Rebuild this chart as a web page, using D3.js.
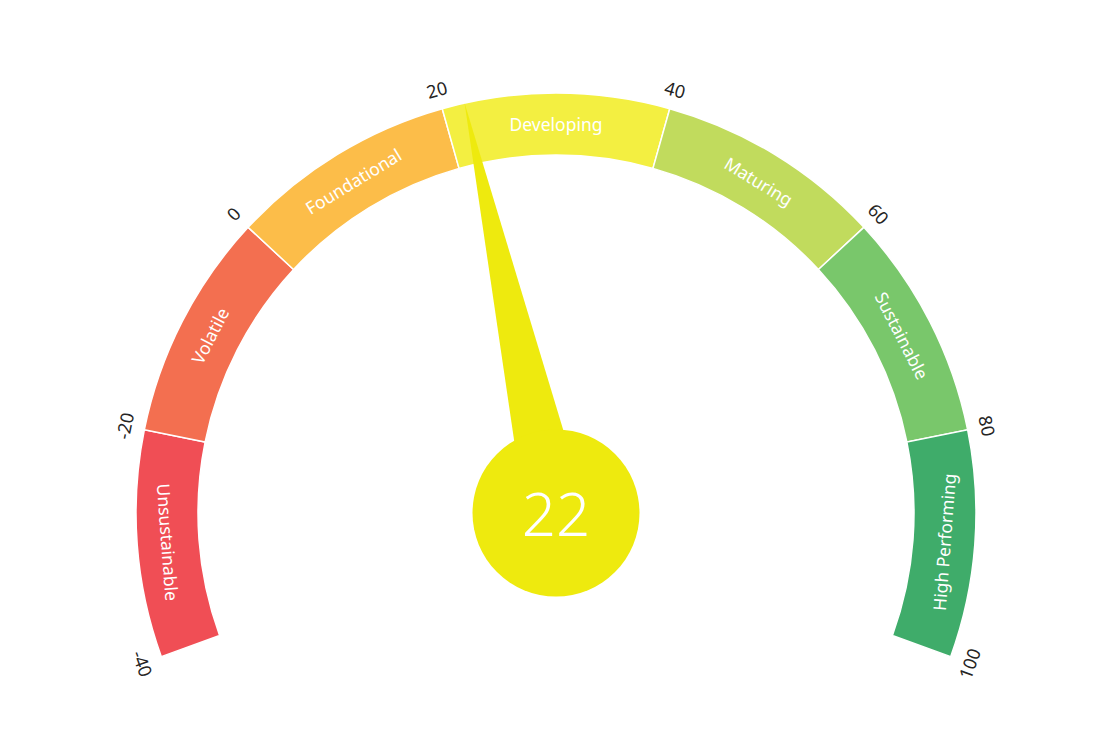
<!DOCTYPE html>
<html>
<head>
<meta charset="utf-8">
<script src="https://cdn.jsdelivr.net/npm/d3@7"></script>
<style>
  body { margin: 0; background: #fff; }
  text { font-family: "Segoe UI", "Noto Sans", "Open Sans", sans-serif; }
</style>
</head>
<body>
<div id="chart"></div>
<script>
// gauge bands and value
const bandNames = ['Unsustainable', 'Volatile', 'Foundational', 'Developing', 'Maturing', 'Sustainable', 'High Performing'];
const bandStops = [-40, -20, 0, 20, 40, 60, 80, 100];
const bandColors = ['#f04e55', '#f36f50', '#fcbd49', '#f3ef41', '#c1db5d', '#79c76b', '#3fac6a'];
const tickLabels = ['-40', '-20', '0', '20', '40', '60', '80', '100'];
const gaugeValue = 22;
const needleColor = '#eeea0e';

const W = 1113, H = 750;
const cx = 556, cy = 513;
const outerR = 420, innerR = 358;

const svg = d3.select('#chart')
  .append('svg')
  .attr('width', W)
  .attr('height', H);

const g = svg.append('g')
  .attr('transform', 'translate(' + cx + ',' + cy + ')');

// value -> angle (radians, 0 = straight up, clockwise)
const angle = d3.scaleLinear()
  .domain([bandStops[0], bandStops[bandStops.length - 1]])
  .range([-110 * Math.PI / 180, 110 * Math.PI / 180]);

const arc = d3.arc()
  .innerRadius(innerR)
  .outerRadius(outerR);

const bands = bandNames.map((name, i) => ({
  name: name,
  from: bandStops[i],
  to: bandStops[i + 1],
  color: bandColors[i]
}));

g.selectAll('path.band')
  .data(bands)
  .enter()
  .append('path')
  .attr('class', 'band')
  .attr('d', d => arc({startAngle: angle(d.from), endAngle: angle(d.to)}))
  .attr('fill', d => d.color)
  .attr('stroke', '#fff')
  .attr('stroke-width', 1.5);

// keep rotated text from going upside down
function readable(deg) {
  if (deg < -90) return deg + 180;
  if (deg > 90) return deg - 180;
  return deg;
}

function polar(r, a) {
  return [r * Math.sin(a), -r * Math.cos(a)];
}

// band names along the arc
const labelR = (innerR + outerR) / 2;
g.selectAll('text.band-label')
  .data(bands)
  .enter()
  .append('text')
  .attr('class', 'band-label')
  .attr('transform', d => {
    const a = angle((d.from + d.to) / 2);
    const p = polar(labelR, a);
    return 'translate(' + p[0] + ',' + p[1] + ') rotate(' + readable(a * 180 / Math.PI) + ')';
  })
  .attr('text-anchor', 'middle')
  .attr('dominant-baseline', 'central')
  .attr('fill', '#fff')
  .attr('font-size', 17.5)
  .text(d => d.name);

// tick labels outside the arc
const tickR = 440;
g.selectAll('text.tick-label')
  .data(bandStops)
  .enter()
  .append('text')
  .attr('class', 'tick-label')
  .attr('transform', (d) => {
    const a = angle(d);
    const p = polar(tickR, a);
    return 'translate(' + p[0] + ',' + p[1] + ') rotate(' + readable(a * 180 / Math.PI) + ')';
  })
  .attr('text-anchor', 'middle')
  .attr('dominant-baseline', 'central')
  .attr('fill', '#252423')
  .attr('font-size', 18)
  .text((d, i) => tickLabels[i]);

// needle: triangle from the hub out to the arc edge
const na = angle(gaugeValue);
const tip = polar(outerR, na);
const baseHalf = 31;
const left = [-baseHalf * Math.cos(na), -baseHalf * Math.sin(na)];
const right = [baseHalf * Math.cos(na), baseHalf * Math.sin(na)];

g.append('path')
  .attr('d', d3.line()([left, tip, right]) + 'Z')
  .attr('fill', needleColor);

g.append('circle')
  .attr('r', 83.5)
  .attr('fill', needleColor);

g.append('text')
  .attr('text-anchor', 'middle')
  .attr('dominant-baseline', 'central')
  .attr('fill', '#fff')
  .attr('font-size', 60)
  .attr('font-weight', 300)
  .text(gaugeValue);
</script>
</body>
</html>
